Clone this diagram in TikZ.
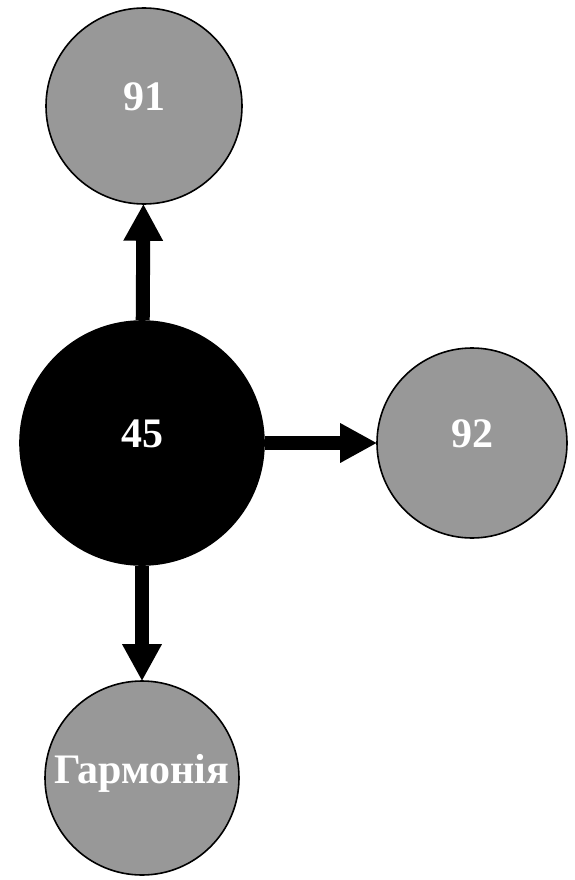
\documentclass[tikz,border=0pt]{standalone}
\usepackage{fontspec}
\setmainfont{Liberation Serif}
\usetikzlibrary{arrows.meta}
\definecolor{ballgray}{RGB}{152,152,152}
\begin{document}
\begin{tikzpicture}[x=1pt,y=-1pt,
  ball/.style={circle,draw=black,line width=1.6pt,inner sep=0pt,
    text=white,font=\bfseries\fontsize{42}{42}\selectfont,text depth=18pt},
  grayball/.style={ball,fill=ballgray,minimum size=#1},
  blackball/.style={ball,fill=black,minimum size=#1},
  arr/.style={line width=14pt,-{Triangle[width=37pt,length=37pt]},shorten >=-1pt}]
\useasboundingbox (0,0) rectangle (575,880);
\node[blackball=244pt] (c) at (142,443) {45};
\node[grayball=196pt] (t) at (144,106) {91};
\node[grayball=190pt] (r) at (472,443) {92};
\node[grayball=194pt] (b) at (142,778) {Гармонія};
\draw[arr] (c) -- (t);
\draw[arr] (c) -- (r);
\draw[arr] (c) -- (b);
\end{tikzpicture}
\end{document}
